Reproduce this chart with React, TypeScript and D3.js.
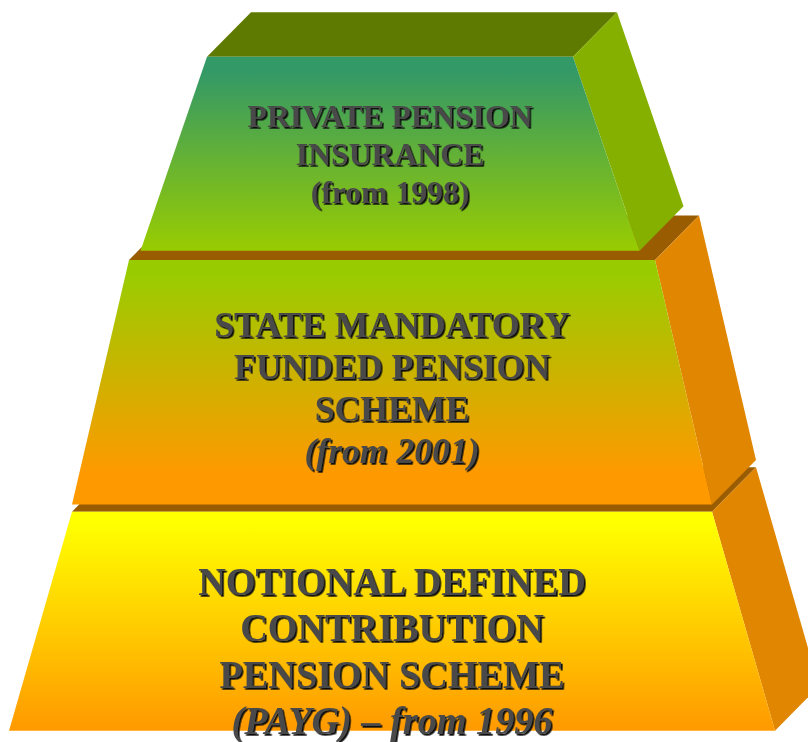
import React, { useEffect, useRef } from 'react';
import * as d3 from 'd3';

// Pillars of the pension system, top to bottom
const tierTitles: string[][] = [
  ['PRIVATE PENSION', 'INSURANCE'],
  ['STATE MANDATORY', 'FUNDED PENSION', 'SCHEME'],
  ['NOTIONAL DEFINED', 'CONTRIBUTION', 'PENSION SCHEME'],
];
const tierNotes: string[] = ['(from 1998)', '(from 2001)', '(PAYG) \u2013 from 1996'];
const tierNoteItalic: boolean[] = [false, true, true];

// Colours per tier
const frontTop = ['#339966', '#99cc00', '#ffff00'];
const frontBottom = ['#99cc00', '#ff9900', '#ff9900'];
const topFace = ['#5f7a00', '#9a5c00', '#9a5c00'];
const sideFace = ['#86b000', '#e08600', '#e08600'];

const W = 808;
const H = 742;

type Point = [number, number];

const App: React.FC = () => {
  const svgRef = useRef<SVGSVGElement>(null);

  useEffect(() => {
    if (!svgRef.current) return;
    const svg = d3.select(svgRef.current);
    svg.selectAll('*').remove();

    // Layout of the frustums (front face edges, in pixels)
    const layout = [
      { cx: 390, yTop: 56.7, yBot: 250.7, hTop: 183, hBot: 249.5, base: 127.3, step: 38, size: 32, sx: 0.99 },
      { cx: 392, yTop: 260, yBot: 504.5, hTop: 263, hBot: 320, base: 336.7, step: 42, size: 36, sx: 0.99 },
      { cx: 392, yTop: 511.7, yBot: 730.7, hTop: 320, hBot: 383, base: 595, step: 46.4, size: 39, sx: 0.98 },
    ];
    const depth: Point = [44, -44.5];

    const line = d3.line<Point>().x((d) => d[0]).y((d) => d[1]);
    const poly = (pts: Point[]) => line(pts) + 'Z';

    const defs = svg.append('defs');

    // hard drop shadow for the embossed labels
    defs
      .append('filter')
      .attr('id', 'label-shadow')
      .attr('x', '-5%')
      .attr('y', '-20%')
      .attr('width', '110%')
      .attr('height', '140%')
      .append('feDropShadow')
      .attr('dx', 1.7)
      .attr('dy', 1.7)
      .attr('stdDeviation', 0.2)
      .attr('flood-color', '#111111')
      .attr('flood-opacity', 1);

    layout.forEach((_, i) => {
      const grad = defs
        .append('linearGradient')
        .attr('id', `front-${i}`)
        .attr('x1', 0)
        .attr('y1', 0)
        .attr('x2', 0)
        .attr('y2', 1);
      const stops =
        i === 0
          ? [[0, frontTop[i]], [0.08, frontTop[i]], [1, frontBottom[i]]]
          : i === 1
          ? [[0, frontTop[i]], [0.06, frontTop[i]], [0.88, frontBottom[i]], [1, frontBottom[i]]]
          : [[0, frontTop[i]], [0.05, frontTop[i]], [1, frontBottom[i]]];
      stops.forEach(([o, c]) => grad.append('stop').attr('offset', o as number).attr('stop-color', c as string));
    });

    // draw bottom tier first so upper tiers sit on top
    const order = d3.range(layout.length).reverse();
    order.forEach((i) => {
      const t = layout[i];
      const [dx, dy] = depth;
      const fl: Point = [t.cx - t.hTop, t.yTop];
      const fr: Point = [t.cx + t.hTop, t.yTop];
      const br: Point = [t.cx + t.hBot, t.yBot];
      const bl: Point = [t.cx - t.hBot, t.yBot];
      const g = svg.append('g').attr('class', `tier-${i}`);

      g.append('path')
        .attr('d', poly([fl, fr, [fr[0] + dx, fr[1] + dy], [fl[0] + dx, fl[1] + dy]]))
        .attr('fill', topFace[i]);
      g.append('path')
        .attr('d', poly([fr, [fr[0] + dx, fr[1] + dy], [br[0] + dx, br[1] + dy], br]))
        .attr('fill', sideFace[i]);
      g.append('path').attr('d', poly([fl, fr, br, bl])).attr('fill', `url(#front-${i})`);

      const lines = [...tierTitles[i], tierNotes[i]];
      lines.forEach((txt, k) => {
        const italic = k === lines.length - 1 && tierNoteItalic[i];
        const y = t.base + k * t.step;
        g.append('text')
          .attr('transform', `translate(${t.cx},${y}) scale(${t.sx},1)`)
          .attr('text-anchor', 'middle')
          .attr('font-family', '"Liberation Serif", "Times New Roman", serif')
          .attr('font-weight', 'bold')
          .attr('font-style', italic ? 'italic' : 'normal')
          .attr('font-size', t.size)
          .attr('fill', '#4a4a4a')
          .attr('filter', 'url(#label-shadow)')
          .text(txt);
      });
    });

    return () => {
      svg.selectAll('*').remove();
    };
  }, []);

  return (
    <svg
      ref={svgRef}
      width={W}
      height={H}
      style={{ position: 'absolute', left: 0, top: 0, background: '#ffffff' }}
    />
  );
};

export default App;
